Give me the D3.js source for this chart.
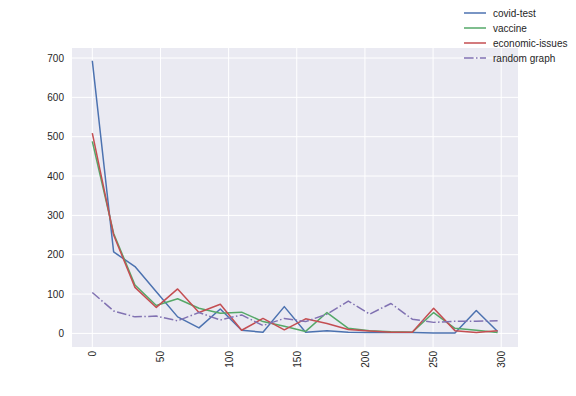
<!DOCTYPE html>
<html lang="en">
<head>
    <meta charset="UTF-8">
    <script src="https://d3js.org/d3.v7.min.js"></script>
    <title>Topics</title>
    <style>
        body { margin: 0; background: #fff; }
        text { font-family: 'Liberation Sans', Arial, sans-serif; fill: #262626; }
        .tick text { font-size: 10px; }
        .legend text { font-size: 10px; }
    </style>
</head>
<body>
<svg height="396" width="576"></svg>
<script>
    const width = 576, height = 396;
    const margin = {left: 72, right: 58, top: 48, bottom: 49};

    // x positions of the samples (20 points, 0 .. ~297)
    const xs = d3.range(20).map(i => +(i * 15.65).toFixed(2));
    const covid    = [693, 207, 170, 106, 42, 14, 62, 8, 3, 68, 3, 7, 3, 2, 2, 2, 1, 1, 58, 5];
    const vaccine  = [488, 254, 123, 71, 88, 64, 51, 54, 30, 18, 5, 53, 13, 7, 4, 3, 53, 13, 8, 2];
    const economic = [509, 250, 117, 66, 113, 53, 74, 8, 38, 9, 37, 25, 10, 6, 3, 3, 64, 7, 2, 7];
    const random   = [104, 57, 42, 44, 32, 53, 34, 47, 20, 38, 30, 49, 82, 49, 76, 36, 28, 31, 31, 32];
    const xTicks = [0, 50, 100, 150, 200, 250, 300];
    const yTicks = [0, 100, 200, 300, 400, 500, 600, 700];

    const series = [
        {name: "covid-test", values: covid, color: "#4C72B0", dash: null},
        {name: "vaccine", values: vaccine, color: "#55A868", dash: null},
        {name: "economic-issues", values: economic, color: "#C44E52", dash: null},
        {name: "random graph", values: random, color: "#8172B2", dash: "9.6,2.4,1.5,2.4"}
    ];

    const svg = d3.select("svg");
    const x = d3.scaleLinear().domain([-14.9, 312.3]).range([margin.left, width - margin.right]);
    const y = d3.scaleLinear().domain([-34.6, 725.5]).range([height - margin.bottom, margin.top]);

    svg.append("rect")
        .attr("x", margin.left).attr("y", margin.top)
        .attr("width", width - margin.left - margin.right)
        .attr("height", height - margin.top - margin.bottom)
        .attr("fill", "#EAEAF2");

    // grid
    svg.append("g").selectAll("line").data(xTicks).enter().append("line")
        .attr("x1", x).attr("x2", x)
        .attr("y1", margin.top).attr("y2", height - margin.bottom)
        .attr("stroke", "#fff").attr("stroke-width", 1);
    svg.append("g").selectAll("line").data(yTicks).enter().append("line")
        .attr("y1", y).attr("y2", y)
        .attr("x1", margin.left).attr("x2", width - margin.right)
        .attr("stroke", "#fff").attr("stroke-width", 1);

    // axes
    const gx = svg.append("g")
        .attr("transform", `translate(0,${height - margin.bottom})`)
        .call(d3.axisBottom(x).tickValues(xTicks).tickSize(0).tickPadding(0));
    gx.select(".domain").remove();
    gx.selectAll(".tick text")
        .attr("transform", "rotate(-90)")
        .attr("text-anchor", "end")
        .attr("x", -4).attr("y", 0).attr("dy", "0.35em");

    const gy = svg.append("g")
        .attr("transform", `translate(${margin.left},0)`)
        .call(d3.axisLeft(y).tickValues(yTicks).tickSize(0).tickPadding(8));
    gy.select(".domain").remove();

    // lines
    const line = vals => d3.line().x((d, i) => x(xs[i])).y(d => y(d))(vals);
    svg.append("g").selectAll("path").data(series).enter().append("path")
        .attr("d", s => line(s.values))
        .attr("fill", "none")
        .attr("stroke", s => s.color)
        .attr("stroke-width", 1.5)
        .attr("stroke-linejoin", "round")
        .attr("stroke-dasharray", s => s.dash);

    // legend
    const lg = svg.append("g").attr("class", "legend");
    const rows = lg.selectAll("g").data(series).enter().append("g")
        .attr("transform", (d, i) => `translate(464,${13 + i * 15})`);
    rows.append("line")
        .attr("x1", 0).attr("x2", 22)
        .attr("stroke", d => d.color).attr("stroke-width", 1.5)
        .attr("stroke-dasharray", d => d.dash);
    rows.append("text")
        .attr("x", 29).attr("dy", "0.35em")
        .text(d => d.name);
</script>
</body>
</html>
